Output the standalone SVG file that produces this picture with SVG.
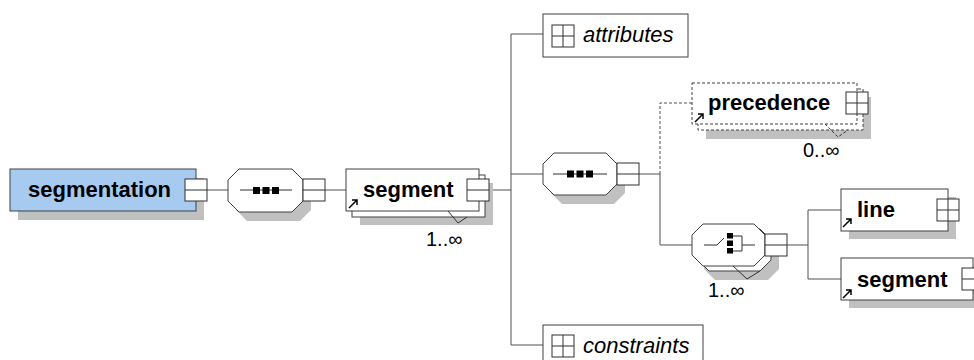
<svg xmlns="http://www.w3.org/2000/svg" width="974" height="360" viewBox="0 0 974 360">
<defs>
<style>
.bx{fill:#fff;stroke:#404040;stroke-width:1}
.bd{fill:#fff;stroke:#404040;stroke-width:1;stroke-dasharray:3,2}
.sh{fill:#c0c0c0;stroke:none}
.ic{fill:#fff;stroke:#303030;stroke-width:1}
.il{stroke:#303030;stroke-width:1;fill:none}
.cn{stroke:#505050;stroke-width:1;fill:none}
.cd{stroke:#505050;stroke-width:1;fill:none;stroke-dasharray:3,2}
.ar{stroke:#000;stroke-width:1.5;fill:none}
.sq{fill:#000}
.tb{font-family:"Liberation Sans",Arial,sans-serif;font-size:22px;font-weight:bold;fill:#000}
.ti{font-family:"Liberation Sans",Arial,sans-serif;font-size:22px;font-style:italic;fill:#000}
.tm{font-family:"Liberation Sans",Arial,sans-serif;font-size:20px;fill:#000}
</style>
</defs>
<rect width="974" height="360" fill="#fff"/>
<g id="connectors">
<path class="cn" d="M207,190H228M325,190H346M489,190H511M511,34V345M511,34H543M511,174H543M511,345H543M639,174H660V245H692M787,245H808M808,210V279M808,210H841M808,279H841"/>
<path class="cd" d="M660,174V103H692"/>
</g>
<g id="segmentation">
<rect class="sh" x="18" y="178" width="186" height="42"/>
<rect x="10" y="169" width="186" height="42" fill="#a6caf0" stroke="#404040"/>
<text class="tb" x="28" y="197">segmentation</text>
<rect class="ic" x="185" y="179" width="22" height="22"/>
<path class="il" d="M185,190H207"/>
</g>
<g id="sequence1">
<polygon class="sh" points="247,178 300,178 311,189 311,210 300,221 247,221 236,210 236,189"/>
<polygon class="bx" points="239,169 292,169 303,180 303,201 292,212 239,212 228,201 228,180"/>
<path class="il" d="M240,190H292"/>
<rect class="sq" x="253" y="187" width="7" height="7"/>
<rect class="sq" x="262.5" y="187" width="7" height="7"/>
<rect class="sq" x="272" y="187" width="7" height="7"/>
<rect class="ic" x="303" y="179" width="22" height="22"/>
<path class="il" d="M303,190H325"/>
</g>
<g id="segment">
<rect class="sh" x="360" y="183" width="133" height="42"/>
<rect class="bx" x="352" y="175" width="133" height="42"/>
<rect class="bx" x="346" y="169" width="133" height="42"/>
<path class="il" d="M448,211L458,223L467,217"/>
<text class="tb" x="363" y="197">segment</text>
<path class="ar" d="M349,208L357,200M352,200H357V205"/>
<rect class="ic" x="467" y="179" width="22" height="22"/>
<path class="il" d="M467,190H489"/>
<text class="tm" x="426" y="246">1..∞</text>
</g>
<g id="attributes">
<rect class="bx" x="543" y="14" width="145" height="43"/>
<rect class="ic" x="552" y="25" width="22" height="22"/>
<path class="il" d="M552,36H574M563,25V47"/>
<text class="ti" x="583" y="42">attributes</text>
</g>
<g id="sequence2">
<polygon class="sh" points="562,162 614,162 625,173 625,193 614,204 562,204 551,193 551,173"/>
<polygon class="bx" points="554,153 606,153 617,164 617,184 606,195 554,195 543,184 543,164"/>
<path class="il" d="M553,174H607"/>
<rect class="sq" x="567" y="170.5" width="7" height="7"/>
<rect class="sq" x="576.5" y="170.5" width="7" height="7"/>
<rect class="sq" x="586" y="170.5" width="7" height="7"/>
<rect class="ic" x="617" y="163" width="22" height="22"/>
<path class="il" d="M617,174H639"/>
</g>
<g id="precedence">
<rect class="sh" x="706" y="97" width="165" height="42"/>
<rect class="bd" x="698" y="89" width="165" height="41"/>
<rect class="bd" x="692" y="83" width="165" height="41"/>
<path class="il" d="M825,124L838,137L848,130" stroke-dasharray="3,2"/>
<text class="tb" x="708" y="110">precedence</text>
<path class="ar" d="M695,122L703,114M698,114H703V119"/>
<rect class="ic" x="846" y="92" width="22" height="22"/>
<path class="il" d="M846,103H868M857,92V114"/>
<text class="tm" x="803" y="157">0..∞</text>
</g>
<g id="choice">
<polygon class="sh" points="715,237 768,237 779,248 779,269 768,280 715,280 704,269 704,248"/>
<polygon class="bx" points="709,229 760,229 771,240 771,260 760,271 709,271 698,260 698,240"/>
<polygon class="bx" points="703,224 754,224 765,235 765,255 754,266 703,266 692,255 692,235"/>
<path class="il" d="M733,266L747,279L760,271"/>
<path class="il" d="M704,245H717L724,238M733,236H742V251H733M742,245H755"/>
<rect class="sq" x="727" y="233" width="6" height="5.5"/>
<rect class="sq" x="727" y="240.5" width="6" height="5.5"/>
<rect class="sq" x="727" y="248" width="6" height="5.5"/>
<rect class="ic" x="765" y="234" width="22" height="22"/>
<path class="il" d="M765,245H787"/>
<text class="tm" x="708" y="297">1..∞</text>
</g>
<g id="line">
<rect class="sh" x="849" y="197" width="107" height="42"/>
<rect class="bx" x="841" y="189" width="107" height="42"/>
<text class="tb" x="857" y="217">line</text>
<path class="ar" d="M843,227L851,219M846,219H851V224"/>
<rect class="ic" x="937" y="199" width="22" height="22"/>
<path class="il" d="M937,210H959M948,199V221"/>
</g>
<g id="segment2">
<rect class="sh" x="849" y="266" width="132" height="42"/>
<rect class="bx" x="841" y="258" width="132" height="42"/>
<text class="tb" x="857" y="287">segment</text>
<path class="ar" d="M843,298L851,290M846,290H851V295"/>
<rect class="ic" x="962" y="268" width="22" height="22"/>
<path class="il" d="M962,279H984"/>
</g>
<g id="constraints">
<rect class="bx" x="543" y="325" width="160" height="43"/>
<rect class="ic" x="552" y="335" width="22" height="22"/>
<path class="il" d="M552,346H574M563,335V357"/>
<text class="ti" x="583" y="353">constraints</text>
</g>
</svg>
